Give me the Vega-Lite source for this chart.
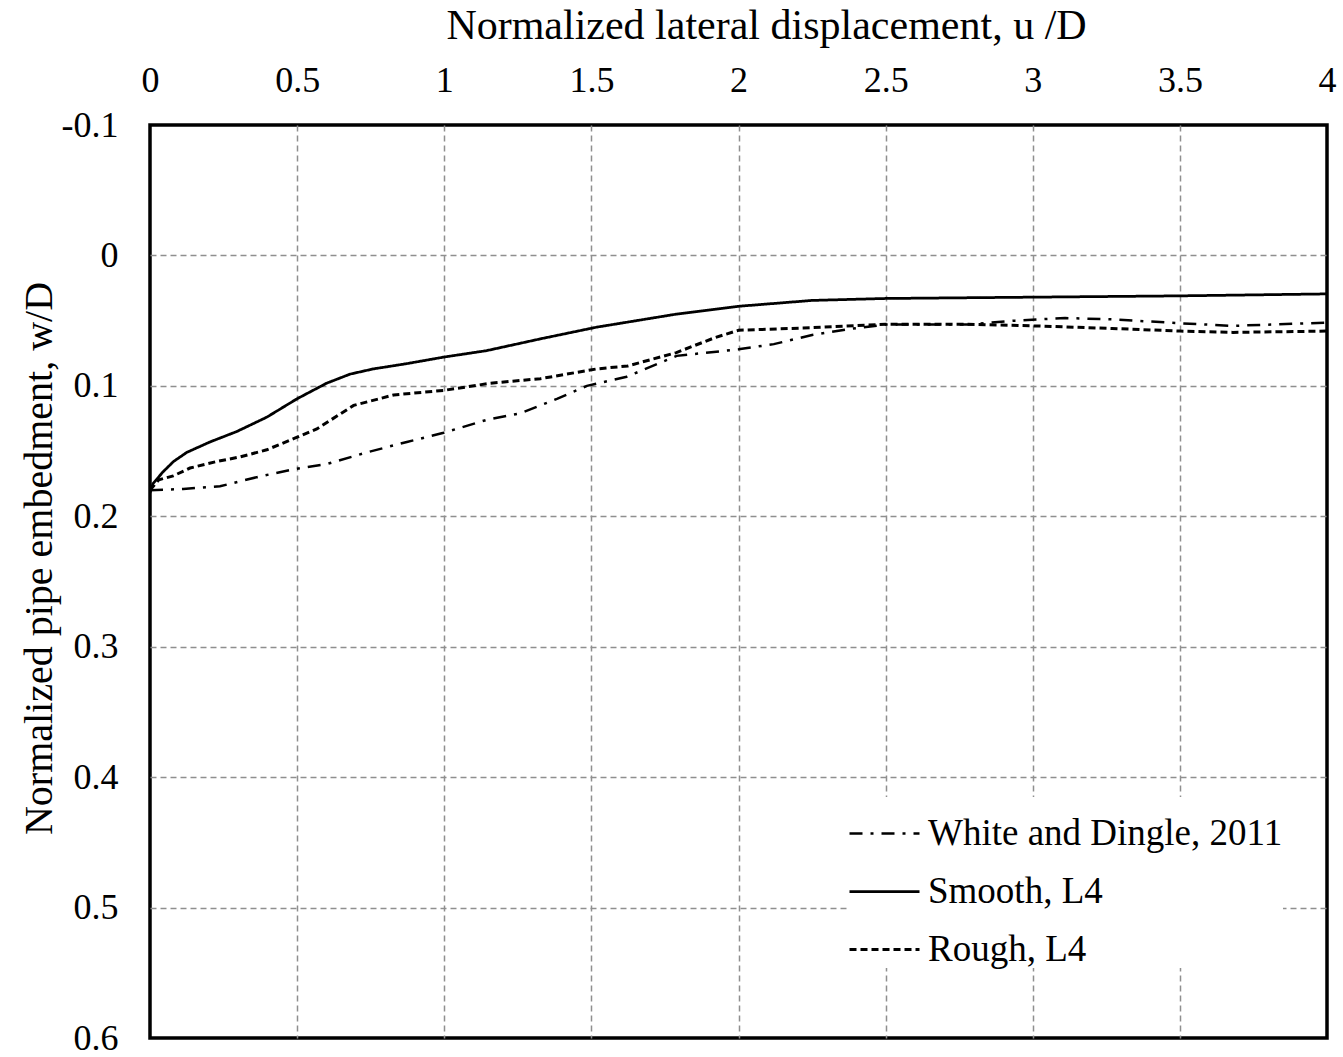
{
  "$schema": "https://vega.github.io/schema/vega-lite/v6.json",
  "width": 1177,
  "height": 913,
  "autosize": "none",
  "padding": {"left": 150, "top": 125, "right": 16, "bottom": 19},
  "background": "white",
  "config": {
    "font": "Liberation Serif",
    "view": {"stroke": "black", "strokeWidth": 3.5}
  },
  "datasets": {
    "curves": [
      {"series": "Smooth, L4", "x": 0, "y": 0.182},
      {"series": "Smooth, L4", "x": 0.01, "y": 0.175},
      {"series": "Smooth, L4", "x": 0.044, "y": 0.166},
      {"series": "Smooth, L4", "x": 0.08, "y": 0.158},
      {"series": "Smooth, L4", "x": 0.125, "y": 0.151},
      {"series": "Smooth, L4", "x": 0.204, "y": 0.143},
      {"series": "Smooth, L4", "x": 0.295, "y": 0.135},
      {"series": "Smooth, L4", "x": 0.397, "y": 0.124},
      {"series": "Smooth, L4", "x": 0.499, "y": 0.11},
      {"series": "Smooth, L4", "x": 0.6, "y": 0.098},
      {"series": "Smooth, L4", "x": 0.68, "y": 0.091},
      {"series": "Smooth, L4", "x": 0.759, "y": 0.087},
      {"series": "Smooth, L4", "x": 0.872, "y": 0.083},
      {"series": "Smooth, L4", "x": 0.997, "y": 0.078},
      {"series": "Smooth, L4", "x": 1.144, "y": 0.073},
      {"series": "Smooth, L4", "x": 1.326, "y": 0.064},
      {"series": "Smooth, L4", "x": 1.518, "y": 0.055},
      {"series": "Smooth, L4", "x": 1.789, "y": 0.045},
      {"series": "Smooth, L4", "x": 2.0, "y": 0.039},
      {"series": "Smooth, L4", "x": 2.25, "y": 0.0345},
      {"series": "Smooth, L4", "x": 2.5, "y": 0.033},
      {"series": "Smooth, L4", "x": 3.0, "y": 0.032},
      {"series": "Smooth, L4", "x": 3.5, "y": 0.031},
      {"series": "Smooth, L4", "x": 4.0, "y": 0.0295},
      {"series": "Rough, L4", "x": 0, "y": 0.18},
      {"series": "Rough, L4", "x": 0.03, "y": 0.172},
      {"series": "Rough, L4", "x": 0.079, "y": 0.169},
      {"series": "Rough, L4", "x": 0.136, "y": 0.163},
      {"series": "Rough, L4", "x": 0.227, "y": 0.158},
      {"series": "Rough, L4", "x": 0.306, "y": 0.1545},
      {"series": "Rough, L4", "x": 0.397, "y": 0.149},
      {"series": "Rough, L4", "x": 0.488, "y": 0.1405},
      {"series": "Rough, L4", "x": 0.567, "y": 0.133},
      {"series": "Rough, L4", "x": 0.692, "y": 0.115},
      {"series": "Rough, L4", "x": 0.828, "y": 0.107},
      {"series": "Rough, L4", "x": 0.998, "y": 0.1035},
      {"series": "Rough, L4", "x": 1.156, "y": 0.098},
      {"series": "Rough, L4", "x": 1.327, "y": 0.0945},
      {"series": "Rough, L4", "x": 1.519, "y": 0.087},
      {"series": "Rough, L4", "x": 1.624, "y": 0.0847},
      {"series": "Rough, L4", "x": 1.789, "y": 0.0745},
      {"series": "Rough, L4", "x": 1.92, "y": 0.063},
      {"series": "Rough, L4", "x": 2.0, "y": 0.0574},
      {"series": "Rough, L4", "x": 2.25, "y": 0.0554},
      {"series": "Rough, L4", "x": 2.5, "y": 0.0528},
      {"series": "Rough, L4", "x": 2.78, "y": 0.0528},
      {"series": "Rough, L4", "x": 3.0, "y": 0.054},
      {"series": "Rough, L4", "x": 3.27, "y": 0.056},
      {"series": "Rough, L4", "x": 3.5, "y": 0.058},
      {"series": "Rough, L4", "x": 3.68, "y": 0.059},
      {"series": "Rough, L4", "x": 4.0, "y": 0.058},
      {"series": "White and Dingle, 2011", "x": 0, "y": 0.18},
      {"series": "White and Dingle, 2011", "x": 0.113, "y": 0.179},
      {"series": "White and Dingle, 2011", "x": 0.238, "y": 0.177},
      {"series": "White and Dingle, 2011", "x": 0.363, "y": 0.17},
      {"series": "White and Dingle, 2011", "x": 0.487, "y": 0.164},
      {"series": "White and Dingle, 2011", "x": 0.6, "y": 0.16},
      {"series": "White and Dingle, 2011", "x": 0.737, "y": 0.151},
      {"series": "White and Dingle, 2011", "x": 0.873, "y": 0.143},
      {"series": "White and Dingle, 2011", "x": 0.998, "y": 0.136},
      {"series": "White and Dingle, 2011", "x": 1.145, "y": 0.126},
      {"series": "White and Dingle, 2011", "x": 1.259, "y": 0.121},
      {"series": "White and Dingle, 2011", "x": 1.383, "y": 0.11},
      {"series": "White and Dingle, 2011", "x": 1.485, "y": 0.1},
      {"series": "White and Dingle, 2011", "x": 1.62, "y": 0.093},
      {"series": "White and Dingle, 2011", "x": 1.79, "y": 0.077},
      {"series": "White and Dingle, 2011", "x": 2.0, "y": 0.072},
      {"series": "White and Dingle, 2011", "x": 2.12, "y": 0.068},
      {"series": "White and Dingle, 2011", "x": 2.25, "y": 0.061},
      {"series": "White and Dingle, 2011", "x": 2.37, "y": 0.0566},
      {"series": "White and Dingle, 2011", "x": 2.5, "y": 0.053},
      {"series": "White and Dingle, 2011", "x": 2.78, "y": 0.053},
      {"series": "White and Dingle, 2011", "x": 2.94, "y": 0.05},
      {"series": "White and Dingle, 2011", "x": 3.11, "y": 0.048},
      {"series": "White and Dingle, 2011", "x": 3.27, "y": 0.049},
      {"series": "White and Dingle, 2011", "x": 3.5, "y": 0.052},
      {"series": "White and Dingle, 2011", "x": 3.68, "y": 0.054},
      {"series": "White and Dingle, 2011", "x": 4.0, "y": 0.0515}
    ]
  },
  "data": {"name": "curves"},
  "mark": {"type": "line", "color": "black", "clip": true},
  "encoding": {
    "x": {
      "field": "x",
      "type": "quantitative",
      "scale": {"domain": [0, 4], "nice": false, "zero": false},
      "axis": {
        "orient": "top",
        "title": "Normalized lateral displacement, u /D",
        "titleFont": "Liberation Serif",
        "titleFontSize": 42,
        "titleFontWeight": "normal",
        "titleColor": "black",
        "titlePadding": 15,
        "titleX": 616,
        "values": [0, 0.5, 1, 1.5, 2, 2.5, 3, 3.5, 4],
        "format": "~g",
        "labelFont": "Liberation Serif",
        "labelFontSize": 36,
        "labelColor": "black",
        "labelPadding": 26,
        "labelFlush": false,
        "ticks": false,
        "domain": false,
        "grid": true,
        "gridColor": "#8f8f8f",
        "gridDash": [6, 4],
        "gridWidth": 1.5,
        "gridOpacity": {"condition": {"test": "datum.value <= 0 || datum.value >= 4", "value": 0}, "value": 1}
      }
    },
    "y": {
      "field": "y",
      "type": "quantitative",
      "scale": {"domain": [-0.1, 0.6], "reverse": true, "nice": false, "zero": false},
      "axis": {
        "title": "Normalized pipe embedment, w/D",
        "titleFont": "Liberation Serif",
        "titleFontSize": 40,
        "titleFontWeight": "normal",
        "titleColor": "black",
        "titlePadding": 2,
        "titleY": 433,
        "values": [-0.1, 0, 0.1, 0.2, 0.3, 0.4, 0.5, 0.6],
        "format": ".1~f",
        "labelExpr": "replace(datum.label, '\u2212', '-')",
        "labelFont": "Liberation Serif",
        "labelFontSize": 36,
        "labelColor": "black",
        "labelPadding": 32,
        "labelFlush": false,
        "ticks": false,
        "domain": false,
        "grid": true,
        "gridColor": "#8f8f8f",
        "gridDash": [6, 4],
        "gridWidth": 1.5,
        "gridOpacity": {"condition": {"test": "datum.value <= -0.1 || datum.value >= 0.6", "value": 0}, "value": 1}
      }
    },
    "strokeDash": {
      "field": "series",
      "type": "nominal",
      "scale": {
        "domain": ["White and Dingle, 2011", "Smooth, L4", "Rough, L4"],
        "range": [[13, 8, 3, 8], [1, 0], [7, 4]]
      },
      "legend": {
        "title": null,
        "orient": "none",
        "legendX": 698,
        "legendY": 672,
        "symbolType": "stroke",
        "symbolSize": 4900,
        "symbolStrokeColor": "black",
        "symbolStrokeWidth": 2.5,
        "labelFont": "Liberation Serif",
        "labelFontSize": 37,
        "labelColor": "black",
        "labelOffset": 7,
        "rowPadding": 3,
        "labelLimit": 600,
        "fillColor": "white"
      }
    },
    "strokeWidth": {
      "field": "series",
      "type": "nominal",
      "scale": {
        "domain": ["White and Dingle, 2011", "Smooth, L4", "Rough, L4"],
        "range": [2.5, 3, 2.5]
      },
      "legend": null
    }
  }
}
